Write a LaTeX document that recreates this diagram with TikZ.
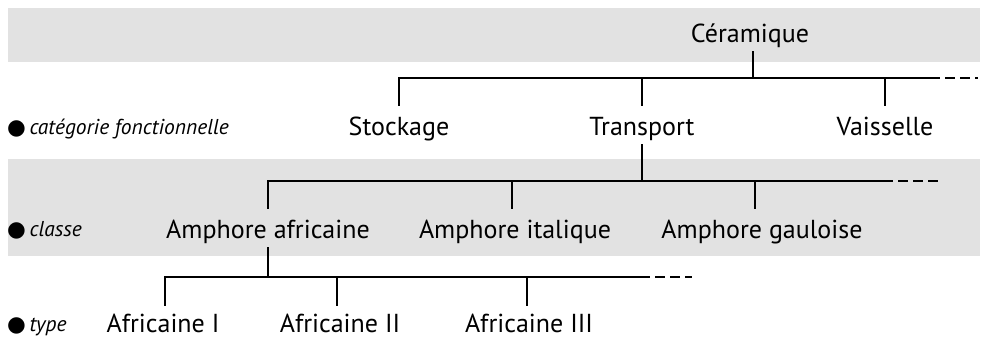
\documentclass[tikz,border=0pt]{standalone}
\usepackage{fontspec}
\setmainfont{PT Sans}
\newfontfamily\symfont{DejaVu Sans}
\definecolor{band}{RGB}{226,226,226}
\begin{document}
\begin{tikzpicture}[x=1pt,y=-1pt,
  item/.style={anchor=base,font=\fontsize{26}{28}\selectfont,text height=20pt,text depth=0pt,inner xsep=0pt,inner ysep=9pt},
  leaf/.style={anchor=base,font=\fontsize{26}{28}\selectfont,text height=26pt,text depth=0pt,inner sep=0pt},
  lvl/.style={anchor=base west,font=\fontsize{21.5}{24}\selectfont\itshape,inner sep=0pt},
  link/.style={line width=1.8pt},
  more/.style={line width=1.8pt,dash pattern=on 10pt off 5pt}]
\useasboundingbox (0,0) rectangle (986,340);
% bands
\fill[band] (8,8) rectangle (980,62);
\fill[band] (8,159) rectangle (980,256);
% level labels
\node[lvl] (l1) at (7,134) {{\symfont ●}\,catégorie fonctionnelle};
\node[lvl] (l2) at (7,236) {{\symfont ●}\,classe};
\node[lvl] (l3) at (7,331) {{\symfont ●}\,type};
% nodes
\node[item] (ceram) at (750,42) {Céramique};
\node[item] (stock) at (399,135) {Stockage};
\node[item] (transp) at (642,135) {Transport};
\node[item] (vais) at (885,135) {Vaisselle};
\node[item] (afr) at (268,238) {Amphore africaine};
\node[item] (ital) at (515,238) {Amphore italique};
\node[item] (gaul) at (762,238) {Amphore gauloise};
\node[leaf] (a1) at (163,332) {Africaine I};
\node[leaf] (a2) at (340,332) {Africaine II};
\node[leaf] (a3) at (529,332) {Africaine III};
% bar ends
\coordinate (e1) at (930,78);
\coordinate (d1) at (978,78);
\coordinate (e2) at (883,181);
\coordinate (d2) at (938,181);
\coordinate (e3) at (640,277);
\coordinate (d3) at (692,277);
% level 1
\draw[link] (stock.north) |- (e1);
\draw[more] (e1) -- (d1);
\draw[link] ([xshift=3pt]ceram.south) -- ([xshift=3pt]ceram.south |- e1);
\draw[link] (transp.north) -- (transp.north |- e1);
\draw[link] (vais.north) -- (vais.north |- e1);
% level 2
\draw[link] (transp.south) -- (transp.south |- e2);
\draw[link] (afr.north) |- (e2);
\draw[more] (e2) -- (d2);
\draw[link] ([xshift=-3pt]ital.north) -- ([xshift=-3pt]ital.north |- e2);
\draw[link] ([xshift=-7pt]gaul.north) -- ([xshift=-7pt]gaul.north |- e2);
% level 3
\draw[link] (afr.south) -- (afr.south |- e3);
\draw[link] ([xshift=2pt]a1.north) |- (e3);
\draw[more] (e3) -- (d3);
\draw[link] ([xshift=-3pt]a2.north) -- ([xshift=-3pt]a2.north |- e3);
\draw[link] ([xshift=-2pt]a3.north) -- ([xshift=-2pt]a3.north |- e3);
\end{tikzpicture}
\end{document}
